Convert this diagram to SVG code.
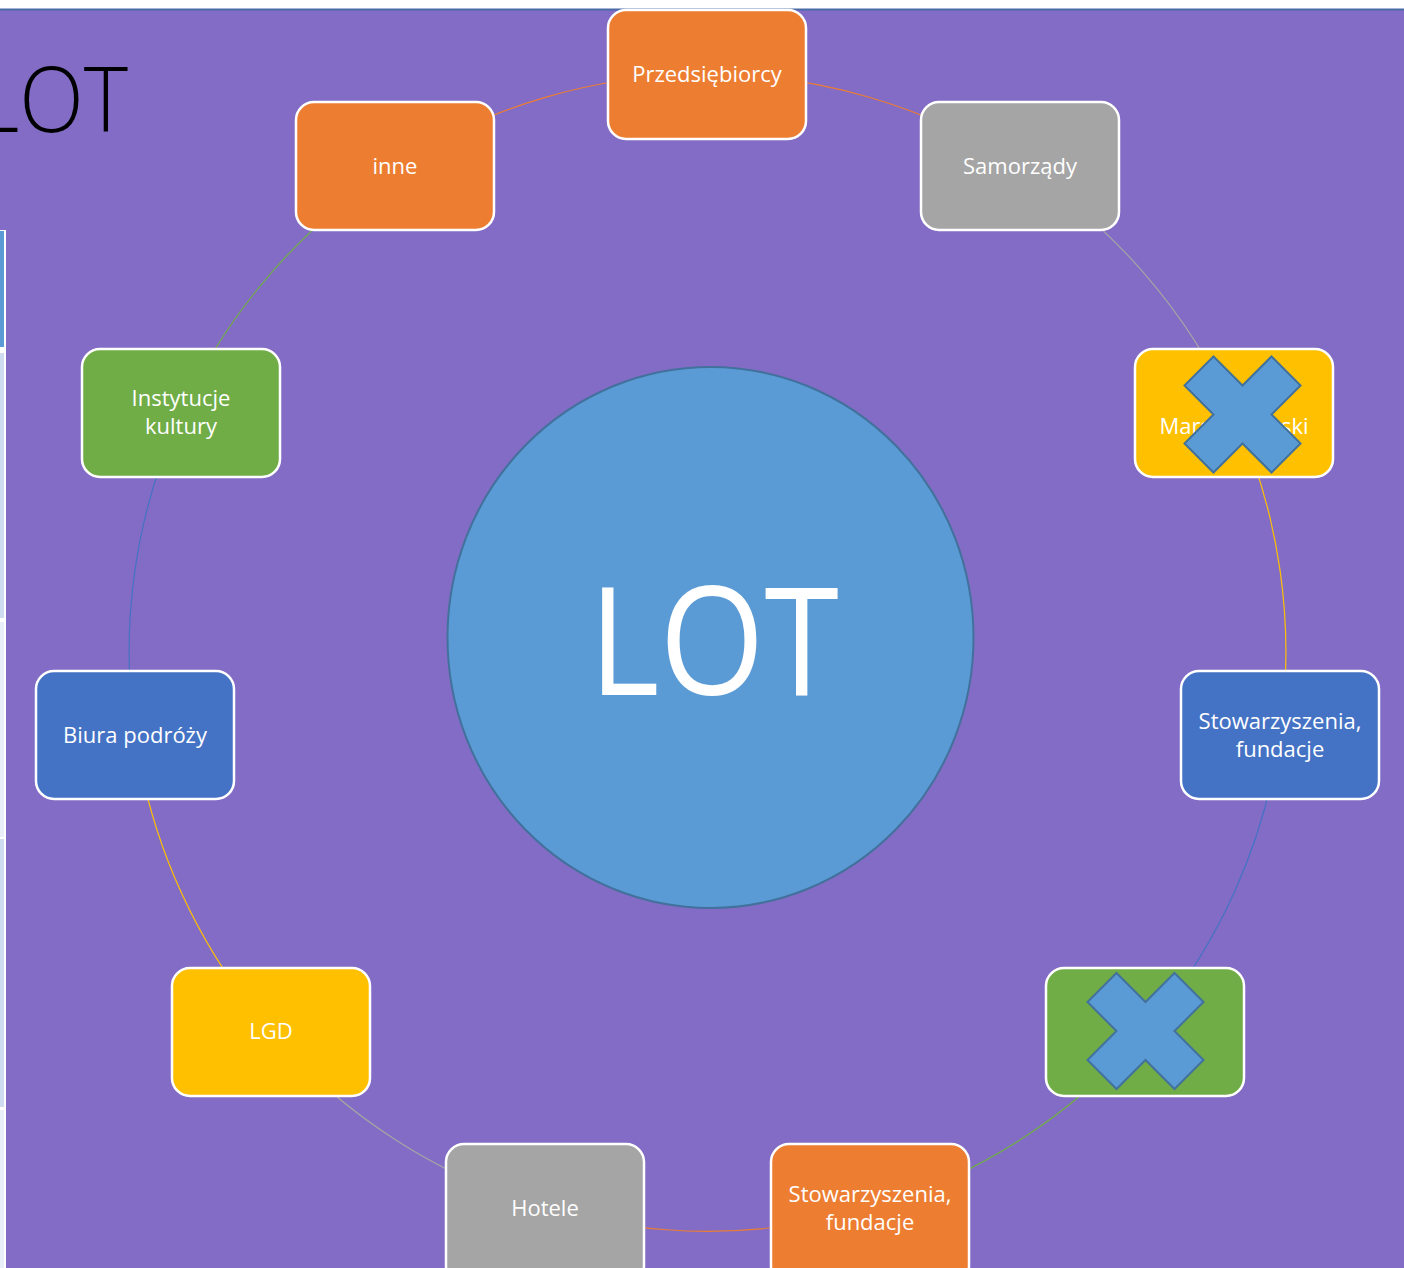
<svg xmlns="http://www.w3.org/2000/svg" width="1404" height="1268" viewBox="0 0 1404 1268">
<style>
.node rect{stroke:#ffffff;stroke-width:2.5}
.lbl{font-family:"Open Sans","Noto Sans","Liberation Sans",sans-serif;font-size:22px;fill:#ffffff;text-anchor:middle}
.arc{fill:none;stroke-width:1.2}
.orange{fill:#ed7d31}.gray{fill:#a5a5a5}.yellow{fill:#ffc000}.blue{fill:#4472c4}.green{fill:#70ad47}
.xmark{fill:#5b9bd5;stroke:#41719c;stroke-width:2;stroke-linejoin:miter}
</style>
<defs>
<polygon id="cross" points="-29,-58 0,-29 29,-58 58,-29 29,0 58,29 29,58 0,29 -29,58 -58,29 -29,0 -58,-29"/>
</defs>
<rect x="0" y="0" width="1404" height="1268" fill="#ffffff"/>
<rect x="6" y="10" width="1398" height="1258" fill="#836cc5"/>
<rect x="0" y="10" width="6" height="220" fill="#836cc5"/>
<line x1="0" y1="9.5" x2="1404" y2="9.5" stroke="#4a6aa8" stroke-width="2"/>
<g id="left-strip">
<rect x="0" y="230" width="6" height="1038" fill="#ffffff"/>
<rect x="0" y="231" width="4" height="116" fill="#5b9bd5"/>
<rect x="0" y="353" width="4" height="265" fill="#cfdcef"/>
<rect x="0" y="622" width="4" height="215" fill="#e9eef8"/>
<rect x="0" y="839" width="4" height="268" fill="#cfdcef"/>
<rect x="0" y="1110" width="4" height="158" fill="#e9eef8"/>
</g>
<g id="connectors">
<path class="arc" stroke="#ed7d31" d="M707 74 A578.5 578.5 0 0 1 1020 166"/>
<path class="arc" stroke="#a5a5a5" d="M1020 166 A578.5 578.5 0 0 1 1234 413"/>
<path class="arc" stroke="#ffc000" d="M1234 413 A578.5 578.5 0 0 1 1280 735"/>
<path class="arc" stroke="#4472c4" d="M1280 735 A578.5 578.5 0 0 1 1145 1032"/>
<path class="arc" stroke="#70ad47" d="M1145 1032 A578.5 578.5 0 0 1 870 1208"/>
<path class="arc" stroke="#ed7d31" d="M870 1208 A578.5 578.5 0 0 1 545 1208"/>
<path class="arc" stroke="#a5a5a5" d="M545 1208 A578.5 578.5 0 0 1 271 1032"/>
<path class="arc" stroke="#ffc000" d="M271 1032 A578.5 578.5 0 0 1 135 735"/>
<path class="arc" stroke="#4472c4" d="M135 735 A578.5 578.5 0 0 1 181 413"/>
<path class="arc" stroke="#70ad47" d="M181 413 A578.5 578.5 0 0 1 395 166"/>
<path class="arc" stroke="#ed7d31" d="M395 166 A578.5 578.5 0 0 1 707 74"/>
</g>
<g id="center">
<ellipse cx="710.5" cy="637.5" rx="263" ry="270.5" fill="#5b9bd5" stroke="#41719c" stroke-width="2"/>
<text x="714" y="695" font-family="'Open Sans','Noto Sans','Liberation Sans',sans-serif" font-size="150" fill="#ffffff" text-anchor="middle" textLength="250" lengthAdjust="spacingAndGlyphs">LOT</text>
</g>
<g id="n-przedsiebiorcy" class="node"><rect class="orange" x="608" y="10" width="198" height="129" rx="18"/><text class="lbl" x="707" y="82">Przedsiębiorcy</text></g>
<g id="n-samorzady" class="node"><rect class="gray" x="921" y="102" width="198" height="128" rx="18"/><text class="lbl" x="1020" y="174">Samorządy</text></g>
<g id="n-marszalkowski" class="node"><rect class="yellow" x="1135" y="349" width="198" height="128" rx="18"/><text class="lbl" x="1234" y="434">Marszałkowski</text><use href="#cross" class="xmark" transform="translate(1242.5 414.5)"/></g>
<g id="n-stowarzyszenia-1" class="node"><rect class="blue" x="1181" y="671" width="198" height="128" rx="18"/><text class="lbl" x="1280" y="729">Stowarzyszenia,</text><text class="lbl" x="1280" y="757">fundacje</text></g>
<g id="n-crossed" class="node"><rect class="green" x="1046" y="968" width="198" height="128" rx="18"/><use href="#cross" class="xmark" transform="translate(1145.5 1031)"/></g>
<g id="n-stowarzyszenia-2" class="node"><rect class="orange" x="771" y="1144" width="198" height="140" rx="18"/><text class="lbl" x="870" y="1202">Stowarzyszenia,</text><text class="lbl" x="870" y="1230">fundacje</text></g>
<g id="n-hotele" class="node"><rect class="gray" x="446" y="1144" width="198" height="140" rx="18"/><text class="lbl" x="545" y="1216">Hotele</text></g>
<g id="n-lgd" class="node"><rect class="yellow" x="172" y="968" width="198" height="128" rx="18"/><text class="lbl" x="271" y="1039">LGD</text></g>
<g id="n-biura" class="node"><rect class="blue" x="36" y="671" width="198" height="128" rx="18"/><text class="lbl" x="135" y="743">Biura podróży</text></g>
<g id="n-instytucje" class="node"><rect class="green" x="82" y="349" width="198" height="128" rx="18"/><text class="lbl" x="181" y="406">Instytucje</text><text class="lbl" x="181" y="434">kultury</text></g>
<g id="n-inne" class="node"><rect class="orange" x="296" y="102" width="198" height="128" rx="18"/><text class="lbl" x="395" y="174">inne</text></g>
<text id="title" x="52" y="132" font-family="'Open Sans','Noto Sans','Liberation Sans',sans-serif" font-weight="300" font-size="91" fill="#000000" text-anchor="middle" textLength="152" lengthAdjust="spacingAndGlyphs">LOT</text>
</svg>
